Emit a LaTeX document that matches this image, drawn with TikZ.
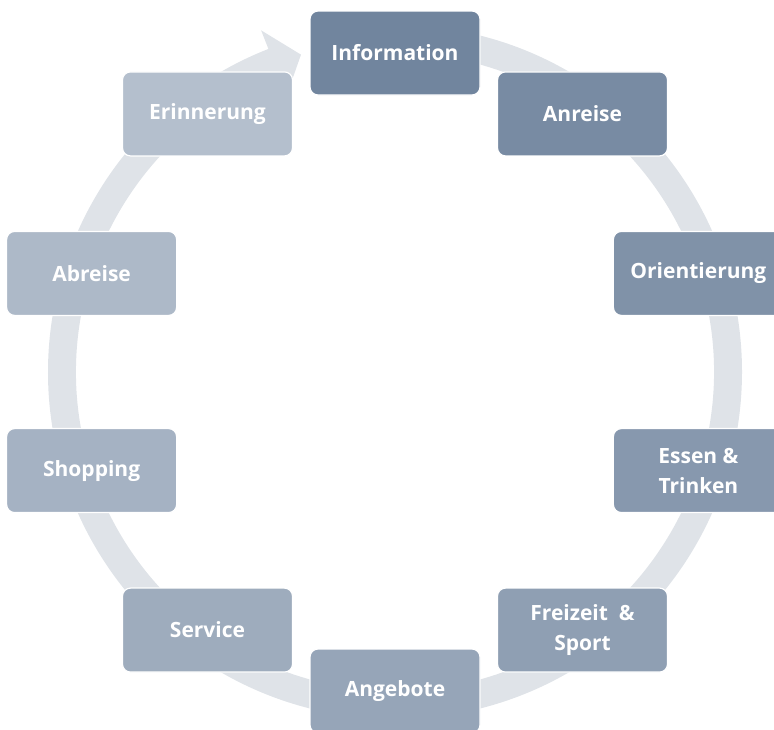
\documentclass[tikz,border=0pt]{standalone}
\usepackage{fontspec}
\setmainfont{Open Sans}
\usetikzlibrary{calc}
\definecolor{ring}{HTML}{DFE3E8}
\definecolor{stepdark}{HTML}{71859E}
\definecolor{steplight}{HTML}{B4BFCD}
\begin{document}
\begin{tikzpicture}[x=1pt,y=-1pt,
  stepbox/.style={draw=white, line width=1.2pt, rounded corners=8pt,
    minimum width=170pt, minimum height=84pt, inner sep=2pt,
    text=white, align=center,
    font=\fontsize{21}{30}\selectfont\bfseries}]
\useasboundingbox (0,0) rectangle (774,729);
\coordinate (c) at (395,372);
% circular band with arrow head pointing at the first step
\fill[ring, shift={(c)}, y=1pt]
  (88:347) arc[start angle=88, end angle=-248.6, radius=347]
  -- (111.4:367) -- (106.5:331) -- (111.4:297) -- (111.4:319)
  arc[start angle=-248.6, end angle=88, radius=319] -- cycle;
% steps, clockwise from the top
\foreach \i/\name/\label in {
  0/s0/Information,
  1/s1/Anreise,
  2/s2/Orientierung,
  3/s3/{Essen \&\\Trinken},
  4/s4/{Freizeit \ \&\\Sport},
  5/s5/Angebote,
  6/s6/Service,
  7/s7/Shopping,
  8/s8/Abreise,
  9/s9/Erinnerung}{
  \pgfmathsetmacro{\ang}{36*\i-90}
  \pgfmathsetmacro{\mix}{100-100*\i/9}
  \colorlet{boxc}{stepdark!\mix!steplight}
  \node[stepbox, fill=boxc] (\name) at ($(c)+(\ang:319)$) {\label};
}
\end{tikzpicture}
\end{document}
